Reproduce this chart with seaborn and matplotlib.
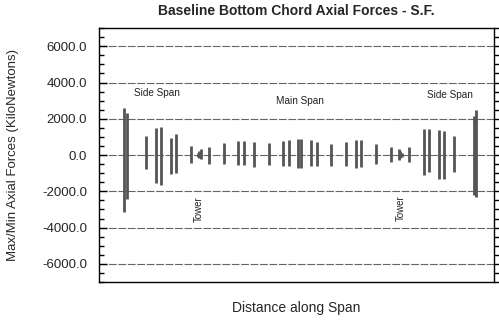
import numpy as np
import pandas as pd
import matplotlib
matplotlib.use('Agg')
import matplotlib.pyplot as plt
from matplotlib.ticker import MultipleLocator, FormatStrFormatter
import seaborn as sns

# station along the bridge (arbitrary units, towers near 100 and 300)
station = [25, 28, 47, 57, 62, 72, 77, 92, 99, 100.5, 102, 110, 125, 139, 145, 155,
           170, 184, 190, 199.5, 202, 212, 218, 232, 247, 257, 262, 277, 292,
           300, 301.5, 303, 310, 325, 330, 340, 345, 355, 375, 377]
max_force = [2600, 2330, 1050, 1470, 1560, 920, 1160, 510, 120, 230, 310, 460, 640, 790, 790, 720,
             640, 770, 810, 900, 900, 810, 730, 620, 720, 810, 830, 590, 460,
             330, 230, 110, 420, 1450, 1410, 1360, 1300, 1050, 2150, 2510]
min_force = [-3150, -2450, -790, -1560, -1670, -1060, -1010, -440, -90, -180, -240, -480, -510, -550, -570, -660,
             -550, -620, -620, -720, -720, -610, -610, -620, -620, -700, -640, -480, -370,
             -270, -190, -90, -400, -1120, -940, -1300, -1300, -940, -2200, -2310]

yticks = [-6000, -4000, -2000, 0, 2000, 4000, 6000]

span_labels = ['Side Span', 'Main Span', 'Side Span']
span_label_x = [58, 201, 351]
span_label_y = [3400, 2980, 3290]
tower_x = [100, 302]
tower_y = [-2990, -2940]

n = len(station)
df = pd.DataFrame({
    'member': np.repeat(np.arange(n), 2),
    'station': np.repeat(station, 2),
    'force': np.column_stack([max_force, min_force]).ravel(),
})

sns.set_theme(style='white')
plt.rcParams['font.family'] = ['Liberation Sans', 'DejaVu Sans']

fig, ax = plt.subplots(figsize=(4.99, 3.23), dpi=100)
fig.subplots_adjust(left=0.198, right=0.990, top=0.913, bottom=0.127)

sns.lineplot(data=df, x='station', y='force', units='member', estimator=None, sort=False,
             color='#555555', linewidth=2.0, legend=False, ax=ax)
for line in ax.lines:
    line.set_solid_capstyle('butt')

ax.set_xlim(0, 395)
ax.set_ylim(-7000, 7000)
ax.set_xticks([])
ax.set_yticks(yticks)
ax.yaxis.set_minor_locator(MultipleLocator(500))
ax.yaxis.set_major_formatter(FormatStrFormatter('%.1f'))
ax.tick_params(axis='y', which='major', direction='in', length=6, width=1, color='black',
               labelsize=9.5, pad=8.5, left=True)
ax.tick_params(axis='y', which='minor', direction='in', length=3.5, width=1, color='black', left=True)
ax.yaxis.grid(True, which='major', linestyle=(0, (7, 1.5)), linewidth=0.8, color='#666666')
ax.set_axisbelow(True)

for s in ax.spines.values():
    s.set_color('black')
    s.set_linewidth(1.0)

ax2 = ax.twinx()
ax2.set_ylim(ax.get_ylim())
ax2.set_yticks(yticks)
ax2.yaxis.set_minor_locator(MultipleLocator(500))
ax2.tick_params(axis='y', which='major', direction='out', length=5, width=1, color='black',
                labelright=False, right=True)
ax2.tick_params(axis='y', which='minor', direction='out', length=3.5, width=1, color='black', right=True)
for s in ax2.spines.values():
    s.set_visible(False)

for txt, x, y in zip(span_labels, span_label_x, span_label_y):
    ax.text(x, y, txt, ha='center', va='center', fontsize=7.2, color='#222222')
for x, y in zip(tower_x, tower_y):
    ax.text(x, y, 'Tower', ha='center', va='center', rotation=90, fontsize=7.0, color='#222222')

ax.set_title('Baseline Bottom Chord Axial Forces - S.F.', fontsize=10, fontweight='bold', pad=9.5)
ax.set_xlabel('Distance along Span', fontsize=10)
ax.set_ylabel('Max/Min Axial Forces (KiloNewtons)', fontsize=9.5)
ax.xaxis.set_label_coords(0.5, -0.075)
ax.yaxis.set_label_coords(-0.203, 0.5)

plt.savefig('out.png', dpi=100)
